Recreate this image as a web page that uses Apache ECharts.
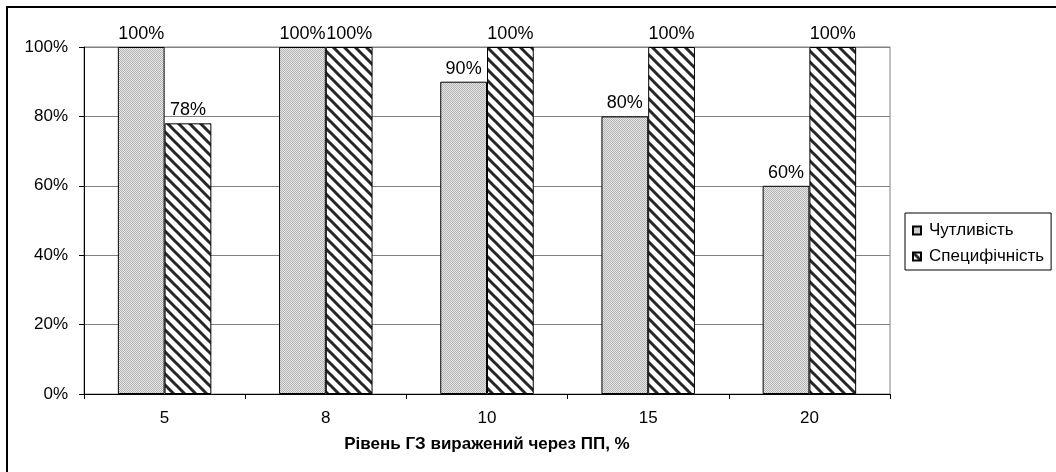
<!DOCTYPE html>
<html>
<head>
<meta charset="utf-8">
<script src="https://cdn.jsdelivr.net/npm/echarts@6/dist/echarts.min.js"></script>
<style>
  html, body { margin: 0; padding: 0; background: #fff; }
  #chart { width: 1056px; height: 472px; }
</style>
</head>
<body>
<div id="chart"></div>
<script>
// Threshold levels and test quality values (%)
const categories = ['5', '8', '10', '15', '20'];
const sensitivity = [100, 100, 90, 80, 60];
const specificity = [78, 100, 100, 100, 100];
const yTicks = [0, 20, 40, 60, 80, 100];

const FONT = '"Liberation Sans", Arial, sans-serif';

// Fine dotted grey fill
function dotPattern() {
  const c = document.createElement('canvas');
  c.width = 2; c.height = 2;
  const g = c.getContext('2d');
  g.fillStyle = '#e6e6e6';
  g.fillRect(0, 0, 2, 2);
  g.fillStyle = '#b4b4b4';
  g.fillRect(0, 0, 1, 1);
  g.fillRect(1, 1, 1, 1);
  return c;
}

// Diagonal "\" hatching
function hatchPattern() {
  const n = 11;
  const c = document.createElement('canvas');
  c.width = n; c.height = n;
  const g = c.getContext('2d');
  g.fillStyle = '#ffffff';
  g.fillRect(0, 0, n, n);
  g.strokeStyle = '#262626';
  g.lineWidth = 3;
  g.lineCap = 'square';
  for (let k = -1; k <= 1; k++) {
    g.beginPath();
    g.moveTo(k * n - 2, -2);
    g.lineTo(k * n + n + 2, n + 2);
    g.stroke();
  }
  return c;
}

const chart = echarts.init(document.getElementById('chart'), null, { renderer: 'canvas' });

const labelStyle = {
  show: true,
  position: 'top',
  distance: 4,
  formatter: '{c}%',
  color: '#000',
  fontFamily: FONT,
  fontSize: 18
};

chart.setOption({
  animation: false,
  backgroundColor: '#fff',
  graphic: [{
    type: 'rect',
    shape: { x: 7, y: 7, width: 1200, height: 600 },
    style: { fill: 'none', stroke: '#000', lineWidth: 2 },
    silent: true,
    z: 100
  }],
  grid: {
    left: 84, right: 166, top: 47, bottom: 78,
    show: true,
    borderColor: '#808080',
    borderWidth: 1,
    backgroundColor: 'transparent'
  },
  legend: {
    orient: 'vertical',
    left: 905,
    top: 213,
    itemWidth: 8,
    itemHeight: 8,
    itemGap: 7,
    padding: [8, 7, 4, 7],
    borderColor: '#000',
    borderWidth: 1,
    icon: 'rect',
    textStyle: {
      color: '#000',
      fontFamily: FONT,
      fontSize: 17,
      lineHeight: 19,
      padding: [0, 0, 0, 3]
    },
    data: ['Чутливість', 'Специфічність']
  },
  xAxis: {
    type: 'category',
    data: categories,
    boundaryGap: true,
    axisLine: { lineStyle: { color: '#000', width: 1 } },
    axisTick: { show: true, alignWithLabel: false, inside: false, length: 5, lineStyle: { color: '#000' } },
    axisLabel: { color: '#000', fontFamily: FONT, fontSize: 17, margin: 16 },
    name: 'Рівень ГЗ виражений через ПП, %',
    nameLocation: 'middle',
    nameGap: 42,
    nameTextStyle: { color: '#000', fontFamily: FONT, fontSize: 17, fontWeight: 'bold' }
  },
  yAxis: {
    type: 'value',
    min: yTicks[0],
    max: yTicks[yTicks.length - 1],
    interval: yTicks[1] - yTicks[0],
    axisLine: { show: true, lineStyle: { color: '#000', width: 1 } },
    axisTick: { show: true, inside: false, length: 5, lineStyle: { color: '#000' } },
    axisLabel: { color: '#000', fontFamily: FONT, fontSize: 17, margin: 16, formatter: '{value}%' },
    splitLine: { show: true, lineStyle: { color: '#808080', width: 1 } }
  },
  series: [
    {
      name: 'Чутливість',
      type: 'bar',
      data: sensitivity,
      barGap: '0%',
      barCategoryGap: '42%',
      itemStyle: {
        color: { image: dotPattern(), repeat: 'repeat' },
        borderColor: '#000',
        borderWidth: 1
      },
      label: labelStyle
    },
    {
      name: 'Специфічність',
      type: 'bar',
      data: specificity,
      barGap: '0%',
      barCategoryGap: '42%',
      itemStyle: {
        color: { image: hatchPattern(), repeat: 'repeat' },
        borderColor: '#000',
        borderWidth: 1
      },
      label: labelStyle
    }
  ]
});
</script>
</body>
</html>
